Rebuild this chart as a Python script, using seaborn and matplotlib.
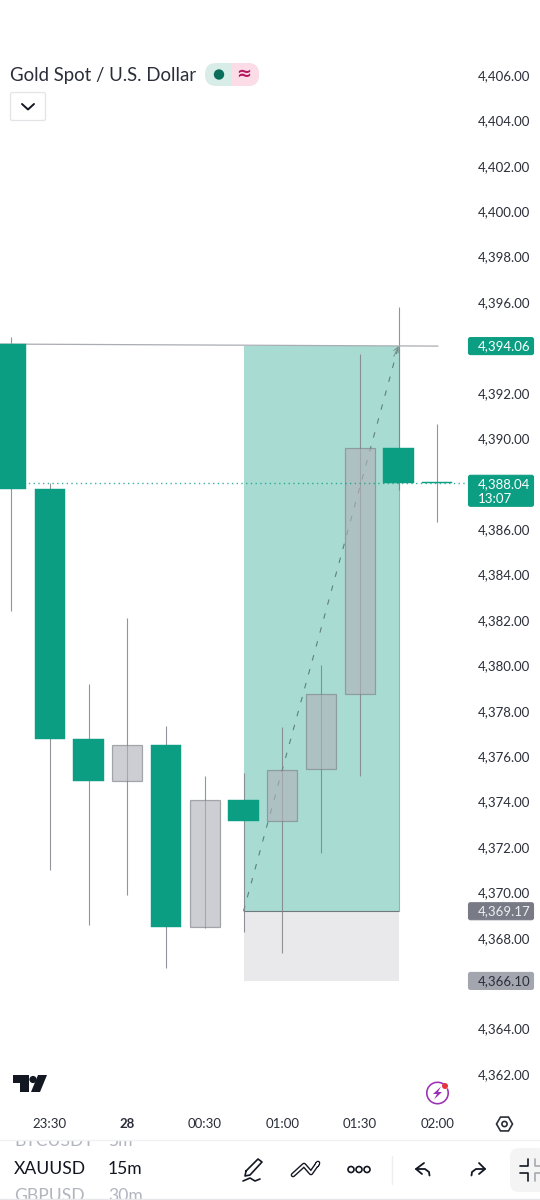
import numpy as np
import pandas as pd
import seaborn as sns
import matplotlib.pyplot as plt
from matplotlib.patches import FancyBboxPatch, Circle, Polygon, Rectangle, Wedge

times = ["23:15", "23:30", "23:45", "00:00", "00:15", "00:30",
         "00:45", "01:00", "01:15", "01:30", "01:45", "02:00"]
opens = [4394.15, 4387.77, 4376.76, 4374.91, 4376.49, 4368.48,
         4374.07, 4373.14, 4375.43, 4378.74, 4389.57, 4388.07]
closes = [4387.77, 4376.76, 4374.91, 4376.49, 4368.48, 4374.07,
          4373.14, 4375.39, 4378.74, 4389.57, 4388.04, 4388.04]
highs = [4394.46, 4388.03, 4379.18, 4382.08, 4377.33, 4375.13,
         4375.26, 4377.28, 4380.01, 4393.71, 4395.78, 4390.63]
lows = [4382.39, 4370.99, 4368.56, 4369.88, 4366.67, 4368.43,
        4368.26, 4367.33, 4371.73, 4375.13, 4387.72, 4386.31]

# 4366, 4388 and 4394 sit behind the price tags, so the scale does not print them
price_ticks = [4406, 4404, 4402, 4400, 4398, 4396, 4392, 4390, 4386, 4384, 4382,
               4380, 4378, 4376, 4374, 4372, 4370, 4368, 4364, 4362]
time_ticks = ["23:30", "00:00", "00:30", "01:00", "01:30", "02:00"]
time_labels = ["23:30", "28", "00:30", "01:00", "01:30", "02:00"]

last_price = 4388.04
target_price = 4394.06
entry_price = 4369.17
stop_price = 4366.10
entry_time = "00:45"
exit_time = "01:45"
trend_prices = [4394.15, 4394.06]

GREEN = "#0b9e82"
BODY_GRAY = "#b0b3ba"
WICK = "#7f8289"
TEAL = "#a8dcd3"
STOP = "#e9e9ec"
DARK = "#131722"
TEXT = "#2a2e39"
FONT = ["Lato", "DejaVu Sans"]

# pixel layout of the price scale
PX_PER_USD = 22.705
Y_REF_PX, Y_REF_PRICE = 75, 4406
X_REF_PX, X_STEP_PX = 11, 38.75
AX_RIGHT, AX_BOTTOM = 468, 1108


def price_px(p):
    return Y_REF_PX + (Y_REF_PRICE - p) * PX_PER_USD


def px_price(y):
    return Y_REF_PRICE - (y - Y_REF_PX) / PX_PER_USD


def px_index(x):
    return (x - X_REF_PX) / X_STEP_PX


def draw_candles(ax, frame):
    frame = frame.assign(bottom=frame[["open", "close"]].min(axis=1),
                         height=(frame["close"] - frame["open"]).abs())
    ax.vlines(frame.index, frame["low"], frame["high"], color=WICK, lw=0.8, alpha=0.85, zorder=2)
    down = frame[frame["close"] < frame["open"]]
    up = frame[frame["close"] >= frame["open"]]
    sns.barplot(data=down, x="time", y="height", order=times, color=GREEN, saturation=1,
                bottom=down["bottom"].to_numpy(), width=0.78, errorbar=None,
                edgecolor=GREEN, linewidth=0.3, zorder=3, ax=ax)
    sns.barplot(data=up, x="time", y="height", order=times, color=BODY_GRAY, saturation=1,
                bottom=up["bottom"].to_numpy(), width=0.78, errorbar=None, alpha=0.64,
                edgecolor="#7d8088", linewidth=0.9, zorder=3, ax=ax)


def draw_position(ax):
    x0, x1 = times.index(entry_time), times.index(exit_time)
    ax.fill_between([x0, x1], entry_price, target_price, color=TEAL, lw=0, zorder=1)
    ax.fill_between([x0, x1], stop_price, entry_price, color=STOP, lw=0, zorder=1)
    ax.plot([x0, x1], [entry_price, entry_price], color="#6f7a7c", lw=0.8, zorder=1.5)
    ax.plot([x1, x1], [entry_price, target_price], color="#8fb5ae", lw=0.8, zorder=1.5)
    ax.plot([x0, x1], [entry_price, target_price], color="#5f7f7b", lw=0.8,
            dashes=(5, 8), zorder=1.6)
    ax.annotate("", xy=(x1, target_price), xytext=(x1 - 0.12, target_price - 0.45),
                arrowprops=dict(arrowstyle="->", color="#7d8f8c", lw=0.7, mutation_scale=9,
                                shrinkA=0, shrinkB=0), zorder=4)
    ax.plot([px_index(0), px_index(438)], trend_prices, color="#a9acb2", lw=0.9, zorder=2.5)
    ax.plot([px_index(0), px_index(AX_RIGHT)], [last_price, last_price], color=GREEN, lw=1,
            dashes=(1, 2.4), alpha=0.8, zorder=4)


def tag(ui, y, lines, face, color):
    h = 17 if len(lines) == 1 else 31
    ui.add_patch(FancyBboxPatch((468.5, y - 8.5), 65, h, boxstyle="round,pad=0,rounding_size=2",
                                fc=face, ec=face, lw=0.8, zorder=5))
    for i, s in enumerate(lines):
        ui.text(478, y + i * 15, s, color=color, fontsize=9.5, va="center", ha="left",
                family=FONT, zorder=6)


def draw_header(ui):
    ui.text(10, 75, "Gold Spot / U.S. Dollar", fontsize=13.4, color=TEXT, family=FONT,
            va="center", ha="left")
    ui.add_patch(FancyBboxPatch((205, 63), 54, 23, boxstyle="round,pad=0,rounding_size=11",
                                fc="#d8ede8", ec="none"))
    right = FancyBboxPatch((205, 63), 54, 23, boxstyle="round,pad=0,rounding_size=11",
                           fc="#fcdce6", ec="none")
    ui.add_patch(right)
    right.set_clip_path(Rectangle((232, 60), 30, 30, transform=ui.transData))
    ui.add_patch(Circle((219, 74.5), 5.2, fc="#0a6e5c", ec="none"))
    ui.text(244, 73.5, "≈", fontsize=13, color="#b5175f", ha="center", va="center",
            family="DejaVu Sans", fontweight="bold")
    ui.add_patch(FancyBboxPatch((10.5, 92.5), 35, 28, boxstyle="round,pad=0,rounding_size=2",
                                fc="white", ec="#e3e4e7", lw=0.9))
    ui.plot([22, 28, 34], [104, 109.5, 104], color=DARK, lw=1.4)


def draw_logo(ui):
    ui.add_patch(Polygon([(13, 1075), (29, 1075), (29, 1092), (20, 1092), (20, 1083), (13, 1083)],
                         fc=DARK, ec="none"))
    ui.add_patch(Circle((33, 1079.5), 3.6, fc=DARK, ec="none"))
    ui.add_patch(Polygon([(38, 1075), (47, 1075), (40, 1092), (31, 1092)], fc=DARK, ec="none"))


def draw_bolt(ui):
    ui.add_patch(Wedge((437.5, 1093), 11.5, -25, -55, width=1.6, fc="#9c2fb5", ec="none"))
    ui.add_patch(Polygon([(441, 1086.5), (433, 1094), (437, 1094), (434, 1099.5), (442, 1092),
                          (438, 1092)], fc="#9c2fb5", ec="none"))
    ui.add_patch(Circle((445, 1086), 3, fc="#e5343f", ec="none"))


def draw_toolbar(ui):
    # hexagon settings icon
    ang = np.radians(np.arange(0, 360, 60))
    ui.add_patch(Polygon(np.c_[504.5 + 8 * np.cos(ang), 1124 + 8 * np.sin(ang)],
                         fc="none", ec=TEXT, lw=1.2))
    ui.add_patch(Circle((504.5, 1124), 2.6, fc="none", ec=TEXT, lw=1.2))

    # symbol and interval wheel
    for y, sym, iv, col in [(1141, "BTCUSDT", "5m", "#b2b5be"),
                            (1169, "XAUUSD", "15m", DARK),
                            (1196, "GBPUSD", "30m", "#b2b5be")]:
        ui.text(14, y, sym, color=col, fontsize=12.6, va="center", ha="left", family=FONT, zorder=1)
        ui.text(108, y, iv, color=col, fontsize=12.6, va="center", ha="left", family=FONT, zorder=1)
    ui.add_patch(Rectangle((0, 1132.5), 540, 7.5, fc="white", ec="none", zorder=2))
    ui.plot([0, 540], [1140, 1140], color="#f0f1f3", lw=1, zorder=3)
    ui.plot([0, 540], [1198.5, 1198.5], color="#e6e7ea", lw=1, zorder=3)

    # pencil
    ui.plot([246, 258, 262, 250, 245, 246], [1171, 1159, 1162, 1175, 1176, 1171], color=DARK, lw=1.2)
    ui.plot([243, 250, 255, 260], [1181, 1178, 1181, 1179], color=DARK, lw=1.2)
    # drawing tool
    ui.plot([293, 304, 311, 318, 317], [1175, 1165, 1173, 1163, 1165], color=DARK, lw=3.4)
    ui.plot([293, 304, 311, 318, 317], [1175, 1165, 1173, 1163, 1165], color="white", lw=1.4)
    # dots
    for x in [351, 359, 367]:
        ui.add_patch(Circle((x, 1169.5), 3, fc="none", ec=DARK, lw=1.2))
    ui.plot([392, 392], [1156, 1184], color="#eceef0", lw=1)
    # undo and redo
    ui.plot([424, 416, 422], [1163, 1169, 1174], color=DARK, lw=1.3)
    ui.plot([416, 425, 429, 429.5], [1169, 1169, 1172, 1175.5], color=DARK, lw=1.3)
    ui.plot([479, 485, 479], [1163, 1169, 1174], color=DARK, lw=1.3)
    ui.plot([485, 476, 472, 471.5], [1169, 1169, 1172, 1175.5], color=DARK, lw=1.3)
    # screen toggle
    ui.add_patch(FancyBboxPatch((510, 1148), 36, 44, boxstyle="round,pad=0,rounding_size=9",
                                fc="#f4f4f5", ec="none"))
    ui.plot([520, 528, 528], [1166, 1166, 1159], color=DARK, lw=1.2)
    ui.plot([520, 528, 528], [1173, 1173, 1181], color=DARK, lw=1.2)
    ui.plot([535, 535, 541], [1159, 1166, 1166], color="#a7a9b0", lw=1.2)
    ui.plot([535, 535, 541], [1181, 1173, 1173], color="#a7a9b0", lw=1.2)


sns.set_theme(style="white")
plt.rcParams["font.family"] = FONT
plt.rcParams["axes.linewidth"] = 0

fig = plt.figure(figsize=(5.4, 12), dpi=100, facecolor="white")
ax = fig.add_axes([0, 1 - AX_BOTTOM / 1200, AX_RIGHT / 540, AX_BOTTOM / 1200])

candles = pd.DataFrame({"time": times, "open": opens, "close": closes, "high": highs, "low": lows})
draw_position(ax)
draw_candles(ax, candles)

ax.set_xlim(px_index(0), px_index(AX_RIGHT))
ax.set_ylim(px_price(AX_BOTTOM), px_price(0))
ax.set_xlabel("")
ax.set_ylabel("")
ax.yaxis.tick_right()
ax.set_yticks(price_ticks)
ax.set_yticklabels([f"{p:,.2f}" for p in price_ticks], fontsize=9.5, color=TEXT)
ax.set_xticks([times.index(t) for t in time_ticks])
ax.set_xticklabels(time_labels, fontsize=9.5, color=TEXT)
ax.get_xticklabels()[1].set_fontweight("bold")
ax.tick_params(axis="y", length=0, pad=7.2)
ax.tick_params(axis="x", length=0, pad=7)
sns.despine(ax=ax, left=True, bottom=True, right=True, top=True)

# screen furniture is drawn in pixel coordinates on top of the chart
ui = fig.add_axes([0, 0, 1, 1], facecolor="none")
ui.set_xlim(0, 540)
ui.set_ylim(1200, 0)
ui.axis("off")

tag(ui, price_px(target_price), ["4,394.06"], GREEN, "white")
tag(ui, price_px(last_price) + 1, ["4,388.04", "13:07"], GREEN, "white")
tag(ui, price_px(entry_price), ["4,369.17"], "#787b86", "#eceef0")
tag(ui, price_px(stop_price), ["4,366.10"], "#a3a6af", "#2a2e39")
draw_header(ui)
draw_logo(ui)
draw_bolt(ui)
draw_toolbar(ui)

fig.savefig("out.png", dpi=100, facecolor="white")
